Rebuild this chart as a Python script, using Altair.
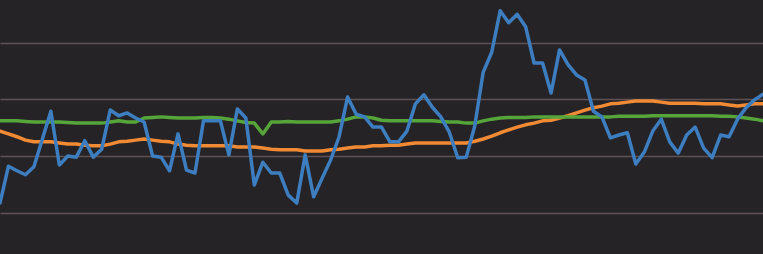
import altair as alt
import pandas as pd

blue = [0.17, 0.82, 0.74, 0.67, 0.81, 1.30, 1.79, 0.84, 1.00, 0.98,
        1.27, 0.98, 1.12, 1.81, 1.71, 1.76, 1.67, 1.60, 1.00, 0.98,
        0.74, 1.39, 0.75, 0.70, 1.62, 1.62, 1.62, 1.02, 1.83, 1.67,
        0.49, 0.89, 0.70, 0.70, 0.31, 0.17, 1.02, 0.28, 0.61, 0.93,
        1.34, 2.04, 1.74, 1.69, 1.51, 1.51, 1.25, 1.25, 1.44, 1.92,
        2.08, 1.86, 1.69, 1.42, 0.97, 0.98, 1.53, 2.48, 2.83, 3.56,
        3.35, 3.50, 3.28, 2.64, 2.64, 2.11, 2.87, 2.61, 2.43, 2.34,
        1.79, 1.69, 1.32, 1.37, 1.41, 0.86, 1.07, 1.44, 1.65, 1.25,
        1.05, 1.37, 1.51, 1.14, 0.97, 1.37, 1.34, 1.65, 1.85, 1.99,
        2.09]

orange = [1.44, 1.39, 1.34, 1.28, 1.25, 1.25, 1.25, 1.23, 1.21, 1.21,
          1.19, 1.18, 1.18, 1.21, 1.25, 1.26, 1.28, 1.30, 1.28, 1.26,
          1.25, 1.21, 1.19, 1.18, 1.18, 1.18, 1.18, 1.18, 1.16, 1.16,
          1.16, 1.14, 1.12, 1.11, 1.11, 1.11, 1.09, 1.09, 1.09, 1.11,
          1.12, 1.14, 1.16, 1.16, 1.18, 1.18, 1.19, 1.19, 1.21, 1.23,
          1.23, 1.23, 1.23, 1.23, 1.23, 1.23, 1.26, 1.30, 1.35, 1.41,
          1.46, 1.51, 1.55, 1.58, 1.62, 1.63, 1.67, 1.71, 1.76, 1.81,
          1.85, 1.88, 1.92, 1.93, 1.95, 1.97, 1.97, 1.97, 1.95, 1.93,
          1.93, 1.93, 1.93, 1.92, 1.92, 1.92, 1.90, 1.88, 1.90, 1.92,
          1.92]

green = [1.62, 1.62, 1.62, 1.61, 1.60, 1.60, 1.60, 1.60, 1.59, 1.58,
         1.58, 1.58, 1.58, 1.60, 1.62, 1.60, 1.60, 1.67, 1.68, 1.69,
         1.68, 1.67, 1.67, 1.67, 1.68, 1.68, 1.67, 1.65, 1.62, 1.59,
         1.58, 1.39, 1.60, 1.60, 1.61, 1.60, 1.60, 1.60, 1.60, 1.60,
         1.62, 1.65, 1.69, 1.69, 1.67, 1.63, 1.62, 1.62, 1.62, 1.62,
         1.62, 1.62, 1.61, 1.60, 1.60, 1.58, 1.58, 1.62, 1.65, 1.67,
         1.68, 1.68, 1.68, 1.69, 1.69, 1.69, 1.69, 1.69, 1.69, 1.69,
         1.69, 1.69, 1.69, 1.70, 1.70, 1.70, 1.70, 1.71, 1.71, 1.71,
         1.71, 1.71, 1.71, 1.71, 1.71, 1.70, 1.70, 1.69, 1.67, 1.65,
         1.62]

grid_values = [0, 1, 2, 3]

idx = list(range(len(blue)))
df = pd.DataFrame({"i": idx, "blue": blue, "orange": orange, "green": green})

xs = alt.X("i:Q", axis=None, scale=alt.Scale(domain=[0, len(blue) - 1], nice=False, zero=False))
yscale = alt.Scale(domain=[-0.728, 3.751], nice=False, zero=False)
yaxis = alt.Axis(values=grid_values, grid=True, gridColor="#5e5254", gridWidth=1.5,
                 gridOpacity=1, domain=False, ticks=False, labels=False, title=None)


def line(field, color):
    return alt.Chart(df).mark_line(color=color, strokeWidth=3.5, strokeJoin="round",
                                   strokeCap="round").encode(
        x=xs, y=alt.Y(f"{field}:Q", scale=yscale, axis=yaxis))


chart = alt.layer(
    line("orange", "#f08a35"),
    line("green", "#55a53a"),
    line("blue", "#3d7ec0"),
).properties(
    width=763, height=254, background="#252326", padding=0, autosize="none"
).configure_view(stroke=None, fill="#252326")

chart.save("out.html", embed_options={"renderer": "svg", "actions": False})
